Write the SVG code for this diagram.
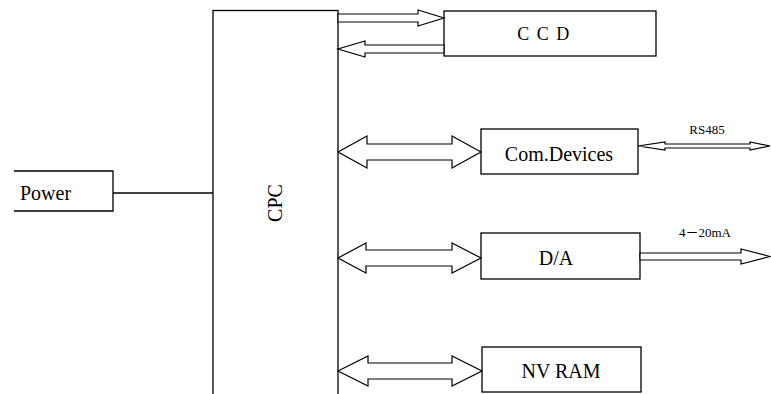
<svg xmlns="http://www.w3.org/2000/svg" width="771" height="394" viewBox="0 0 771 394">
  <style>
    .box { fill: #fff; stroke: #000; stroke-width: 1.3; }
    .line { fill: none; stroke: #000; stroke-width: 1.3; }
    .arrow { fill: #fff; stroke: #000; stroke-width: 1.2; stroke-linejoin: miter; }
    text { font-family: "Liberation Serif", "Noto Sans CJK SC", serif; fill: #000; text-anchor: middle; }
    .big { font-size: 20px; }
    .small { font-size: 13px; }
  </style>
  <rect width="771" height="394" fill="#fff"/>

  <!-- Power supply block (open on the left) -->
  <g id="power">
    <path class="line" d="M14,171 H113 V211 H14"/>
    <text class="big" x="45.5" y="200">Power</text>
  </g>

  <!-- Central processing block -->
  <g id="cpc">
    <rect class="box" x="213" y="10.5" width="125" height="392"/>
    <text class="big" transform="translate(282,203) rotate(-90)">CPC</text>
  </g>

  <g id="ccd">
    <rect class="box" x="444" y="11" width="212" height="45"/>
    <text x="544" y="40" font-size="18" letter-spacing="1.5">C C D</text>
  </g>

  <g id="com-devices">
    <rect class="box" x="481" y="129" width="157" height="45"/>
    <text class="big" x="559" y="161">Com.Devices</text>
  </g>

  <g id="da">
    <rect class="box" x="481" y="233" width="159" height="46"/>
    <text class="big" x="556" y="265">D/A</text>
  </g>

  <g id="nvram">
    <rect class="box" x="482" y="347" width="159" height="45"/>
    <text class="big" x="561" y="378">NV RAM</text>
  </g>

  <!-- Connectors -->
  <g id="connectors">
    <!-- power feed -->
    <line class="line" x1="113" y1="193" x2="213" y2="193"/>

    <!-- CPC -> CCD -->
    <polygon class="arrow" points="338,14 418,14 418,10 444,18 418,26 418,22 338,22"/>
    <!-- CCD -> CPC -->
    <polygon class="arrow" points="444,45 365,45 365,41 338,49 365,57 365,53 444,53"/>

    <!-- CPC <-> Com.Devices -->
    <polygon class="arrow" points="338,152 367,136 367,144 452,144 452,136 481,152 452,168 452,160 367,160 367,168"/>
    <!-- RS485 bus -->
    <polygon class="arrow" points="638,146 665,142 665,144 750,144 750,142 770,146 750,150 750,148 665,148 665,150"/>
    <text class="small" x="707" y="134">RS485</text>

    <!-- CPC <-> D/A -->
    <polygon class="arrow" points="338,258 366,243 366,250 452,250 452,243 481,258 452,273 452,266 366,266 366,273"/>
    <!-- analog output -->
    <polygon class="arrow" points="640,253 741,253 741,249 770,256.5 741,264 741,260 640,260"/>
    <text class="small" x="705" y="237" font-family="Liberation Serif, Noto Sans CJK SC, serif">4－20mA</text>

    <!-- CPC <-> NV RAM -->
    <polygon class="arrow" points="338,371 368,356 368,363 452,363 452,356 482,371 452,386 452,379 368,379 368,386"/>
  </g>
</svg>
